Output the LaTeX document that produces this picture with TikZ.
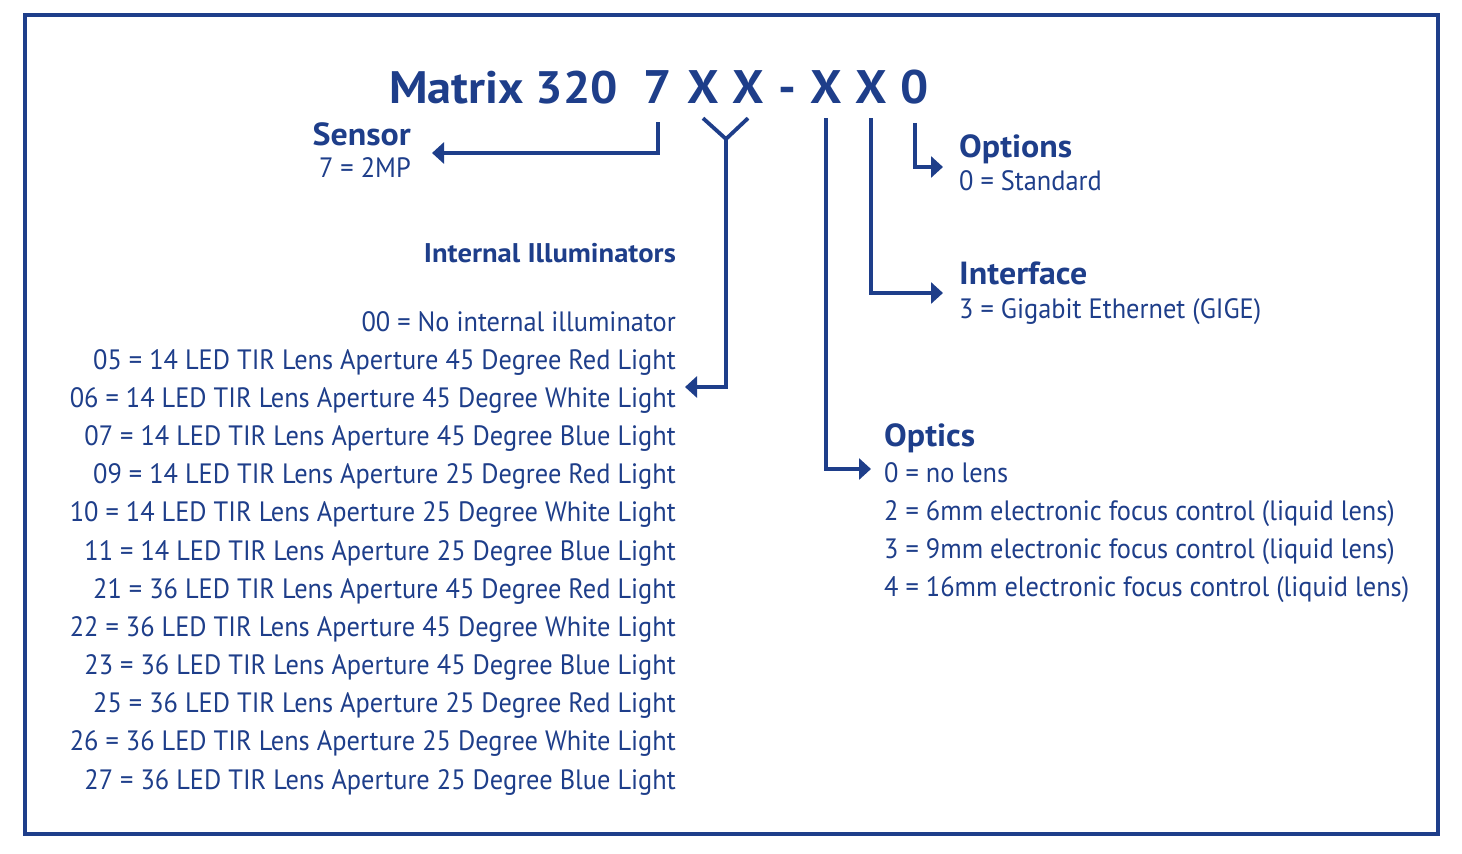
\documentclass[tikz,border=0pt]{standalone}
\usepackage{fontspec}
\setmainfont{PT Sans}[FakeStretch=0.942,BoldFeatures={FakeStretch=1.06}]
\usetikzlibrary{arrows.meta}
\definecolor{mblue}{RGB}{30,62,138}

\begin{document}
\begin{tikzpicture}[x=1pt,y=-1pt,
  txt/.style={inner sep=0pt,text=mblue,font=\fontsize{28}{30}\selectfont},
  hd/.style={inner sep=0pt,text=mblue,font=\fontsize{32}{34}\selectfont\bfseries},
  big/.style={inner sep=0pt,text=mblue,anchor=base,font=\fontsize{47}{50}\selectfont\bfseries},
  lnk/.style={draw=mblue,line width=3.8pt},
  arr/.style={lnk,-{Triangle[length=12pt,width=21pt]}}]
\useasboundingbox (0,0) rectangle (1462,854);
\draw[mblue,line width=4pt] (25,15) rectangle (1438,834);
% part number
\node [big,anchor=base west,font=\fontsize{45.5}{48}\selectfont\bfseries] (title) at (389,103) {Matrix 320};
\node [big] (c7) at (658,103) {7};
\node [big] (cx1) at (703,103) {X};
\node [big] (cx2) at (748,103) {X};
\node [big] (cdash) at (787,103) {-};
\node [big] (cx3) at (826,103) {X};
\node [big] (cx4) at (871,103) {X};
\node [big] (c0) at (915,103) {0};
% sensor
\node [hd,anchor=base east] (sensor) at (411,145) {Sensor};
\node [txt,anchor=base east] (sensorval) at (411,177) {7 = 2MP};
\coordinate (sensortip) at (432,153);
\draw [arr] ([yshift=-19pt]c7.south) |- (sensortip);
% internal illuminators
\node [hd,anchor=base east,font=\fontsize{27}{29}\selectfont\bfseries] (ill) at (676,262) {Internal Illuminators};
\foreach \t [count=\i from 0] in {00 = No internal illuminator,
  05 = 14 LED TIR Lens Aperture 45 Degree Red Light,
  06 = 14 LED TIR Lens Aperture 45 Degree White Light,
  07 = 14 LED TIR Lens Aperture 45 Degree Blue Light,
  09 = 14 LED TIR Lens Aperture 25 Degree Red Light,
  10 = 14 LED TIR Lens Aperture 25 Degree White Light,
  11 = 14 LED TIR Lens Aperture 25 Degree Blue Light,
  21 = 36 LED TIR Lens Aperture 45 Degree Red Light,
  22 = 36 LED TIR Lens Aperture 45 Degree White Light,
  23 = 36 LED TIR Lens Aperture 45 Degree Blue Light,
  25 = 36 LED TIR Lens Aperture 25 Degree Red Light,
  26 = 36 LED TIR Lens Aperture 25 Degree White Light,
  27 = 36 LED TIR Lens Aperture 25 Degree Blue Light}
  \node [txt,anchor=base east] (ill\i) at (676,331+38.17*\i) {\t};
\coordinate (illjoin) at (726,139);
\coordinate (illtip) at (685,387);
\draw [lnk] ([yshift=-15pt]cx1.south) -- (illjoin) -- ([yshift=-15pt]cx2.south);
\draw [arr] (illjoin) |- (illtip);
% optics
\node [hd,anchor=base west] (optics) at (884,446) {Optics};
\foreach \t [count=\i from 0] in {0 = no lens,
  2 = 6mm electronic focus control (liquid lens),
  3 = 9mm electronic focus control (liquid lens),
  4 = 16mm electronic focus control (liquid lens)}
  \node [txt,anchor=base west] (opt\i) at (884,482+38*\i) {\t};
\coordinate (opttip) at (871,469);
\draw [arr] ([yshift=-15pt]cx3.south) |- (opttip);
% interface
\node [hd,anchor=base west] (iface) at (959,284) {Interface};
\node [txt,anchor=base west] (ifaceval) at (959,318) {3 = Gigabit Ethernet (GIGE)};
\coordinate (ifacetip) at (943,293);
\draw [arr] ([yshift=-15pt]cx4.south) |- (ifacetip);
% options
\node [hd,anchor=base west] (opts) at (959,157) {Options};
\node [txt,anchor=base west] (optsval) at (959,190) {0 = Standard};
\coordinate (optstip) at (943,167);
\draw [arr] ([yshift=-19pt]c0.south) |- (optstip);
\end{tikzpicture}
\end{document}
